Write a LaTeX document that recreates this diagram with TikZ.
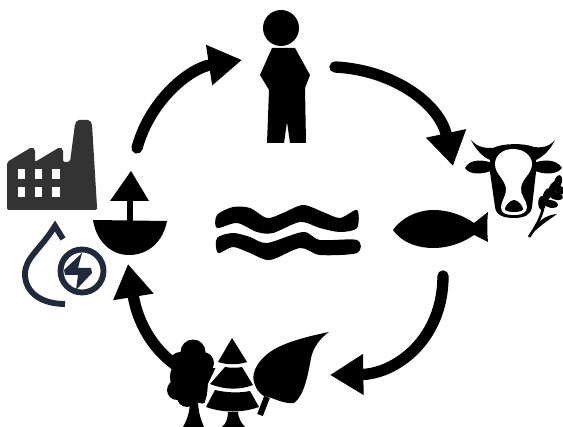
\documentclass[tikz,border=0pt]{standalone}
\usetikzlibrary{arrows.meta}
\definecolor{factorygray}{HTML}{333333}
\definecolor{dropnavy}{HTML}{1F2A3C}
\tikzset{
  cyclearrow/.style={line width=8.5pt, line cap=round, -{Triangle[length=25pt,width=29pt]}},
  dropline/.style={dropnavy, line width=4.4pt}
}
\begin{document}
\begin{tikzpicture}[x=0.75pt, y=-0.75pt]
  \useasboundingbox (0,0) rectangle (563,427);

  % cycle arrows
  \coordinate (boatout) at (137,148);
  \coordinate (personin) at (242,60);
  \coordinate (personout) at (335,67);
  \coordinate (cowin) at (453,166);
  \coordinate (fishout) at (443,276);
  \coordinate (leafin) at (330,375);
  \coordinate (treeout) at (180,368);
  \coordinate (boatin) at (128,264);
  \draw[cyclearrow] (boatout) .. controls (150,100) and (190,68) .. (personin);
  \draw[cyclearrow] (personout) .. controls (395,70) and (440,105) .. (cowin);
  \draw[cyclearrow] (fishout) .. controls (443,340) and (395,374) .. (leafin);
  \draw[cyclearrow] (treeout) .. controls (155,352) and (138,325) .. (boatin);

  % factory
  \fill[factorygray, rounded corners=1.5pt]
    (7,162) -- (32,147) -- (35,149) -- (35,162) -- (60,147) -- (63,149) -- (63,162)
    -- (70,162) -- (75,124) -- (77,120) -- (90,120) -- (92,124) -- (97,207)
    -- (97,210) -- (7,210) -- cycle;
  \foreach \wx in {17.5, 34.5, 52} {
    \foreach \wy in {169, 187} {
      \fill[white] (\wx,\wy) rectangle +(7.5,10.5);
    }
  }

  % water drop with bolt
  \draw[dropline] (63,239) -- (55,226) .. controls (40,250) and (25,258) .. (25,274)
    .. controls (25,293) and (42,304) .. (65,304);
  \fill[white] (82,271) circle[radius=25];
  \draw[dropline] (82,271) circle[radius=21.5];
  \fill[dropnavy] (82,253) -- (64,270) -- (65,275) -- (78,275) -- (76,290)
    -- (92,273) -- (91,268) -- (78,268) -- cycle;

  % boat
  \fill (93,220) -- (167,221) .. controls (163,242) and (148,255) .. (129,255)
    .. controls (110,255) and (96,240) .. (93,220) -- cycle;
  \fill (127,200) rectangle (133,221);
  \fill (131,171) -- (149,201) -- (110,201) -- cycle;

  % person
  \fill (281,28) circle[radius=18];
  \fill (272,48) -- (295,48) -- (310,75) -- (305,88) -- (306,143) -- (290,143)
    -- (287,122) -- (284,143) -- (267,143) -- (269,90) -- (260,75) -- cycle;

  % cow
  \fill (471,140) .. controls (478,148) and (486,148) .. (493,148)
    .. controls (503,143) and (524,143) .. (534,147)
    .. controls (542,148) and (549,147) .. (555,140)
    .. controls (550,150) and (544,156) .. (536,160) -- (536,172)
    -- (532,207) .. controls (531,215) and (524,218) .. (514,218)
    .. controls (503,218) and (496,215) .. (495,207)
    -- (490,172) -- (490,160)
    .. controls (483,157) and (476,150) .. (471,140) -- cycle;
  \fill (492,163) .. controls (485,160) and (470,158) .. (465,168)
    .. controls (470,176) and (485,174) .. (493,170) -- cycle;
  \fill (534,163) .. controls (541,160) and (556,158) .. (562,168)
    .. controls (556,176) and (541,174) .. (533,170) -- cycle;
  \fill[white] (513,149) .. controls (502,149) and (495,156) .. (495,164)
    .. controls (495,174) and (504,178) .. (506,188)
    .. controls (507,195) and (501,201) .. (501,207)
    .. controls (501,213) and (505,215) .. (514,215)
    .. controls (523,215) and (527,212) .. (527,207)
    .. controls (527,201) and (520,195) .. (521,188)
    .. controls (522,178) and (532,174) .. (532,164)
    .. controls (532,156) and (524,149) .. (513,149) -- cycle;
  \fill (514,200) .. controls (510,200) and (505,206) .. (505,209)
    .. controls (505,213) and (523,213) .. (523,209)
    .. controls (523,206) and (518,200) .. (514,200) -- cycle;

  % wheat
  \draw[line width=2pt] (529,237) .. controls (535,228) and (540,220) .. (543,209);
  \fill (530,236) .. controls (536,222) and (545,215) .. (557,214)
    .. controls (549,220) and (540,225) .. (530,236) -- cycle;
  \foreach \gx/\gy/\ang in {542/203/90, 547/195/70, 553/188/65, 558/182/75, 551/204/-10, 556/196/-15, 560/190/-25} {
    \fill[rotate around={\ang:(\gx,\gy)}] (\gx,\gy) ellipse[x radius=7, y radius=3.8];
  }

  % fish
  \fill (393,230) .. controls (403,216) and (420,210) .. (433,210)
    .. controls (450,210) and (464,216) .. (474,223) -- (488,212)
    .. controls (487,222) and (487,232) .. (488,242) -- (474,235)
    .. controls (464,242) and (450,248) .. (433,248)
    .. controls (420,248) and (403,244) .. (393,230) -- cycle;

  % waves
  \fill plot[smooth cycle, tension=0.5] coordinates {
    (217,215) (233,207) (250,208) (267,218) (283,213) (303,205) (323,212) (340,218) (357,210)
    (357,228) (340,232) (320,228) (300,222) (273,233) (257,232) (237,223) (217,228)};
  \fill plot[smooth cycle, tension=0.5] coordinates {
    (217,238) (233,233) (250,237) (267,243) (303,232) (320,240) (357,240)
    (357,253) (320,255) (300,248) (270,260) (250,253) (233,247) (218,253)};

  % broad leaf tree
  \foreach \cx/\cy/\rad in {193/352/12.5, 180/362/10, 203/363/11, 191/377/21, 177/390/10, 187/397/10, 202/392/11.5} {
    \fill (\cx,\cy) circle[radius=\rad];
  }
  \fill (190,400) -- (198,400) .. controls (198,412) and (201,420) .. (204,427)
    -- (183,427) .. controls (187,420) and (190,412) .. (190,400) -- cycle;
  \fill (205,368) rectangle (226,378);

  % fir tree
  \fill[white] (232,334) -- (263,412) -- (202,412) -- (207,395) -- (208,384) -- cycle;
  \fill (232,338) -- (247,362) .. controls (238,365) and (227,365) .. (218,362) -- cycle;
  \fill (225,367) .. controls (231,368) and (237,368) .. (242,367) -- (253,385)
    .. controls (240,390) and (225,390) .. (210,384) -- cycle;
  \fill (215,390) .. controls (228,393) and (240,393) .. (250,391) -- (259,407)
    .. controls (242,413) and (223,413) .. (206,407) -- cycle;
  \fill (228,412) -- (238,412) .. controls (238,418) and (242,424) .. (245,427)
    -- (222,427) .. controls (226,424) and (228,418) .. (228,412) -- cycle;

  % leaf
  \draw[line width=4.5pt] (267,397) -- (260,415);
  \fill (329,332) .. controls (300,338) and (275,345) .. (263,358)
    .. controls (255,366) and (252,375) .. (254,382)
    .. controls (256,390) and (262,397) .. (268,397)
    .. controls (276,399) and (284,404) .. (294,403)
    .. controls (304,396) and (308,375) .. (311,358)
    .. controls (313,348) and (320,338) .. (329,332) -- cycle;
\end{tikzpicture}
\end{document}
